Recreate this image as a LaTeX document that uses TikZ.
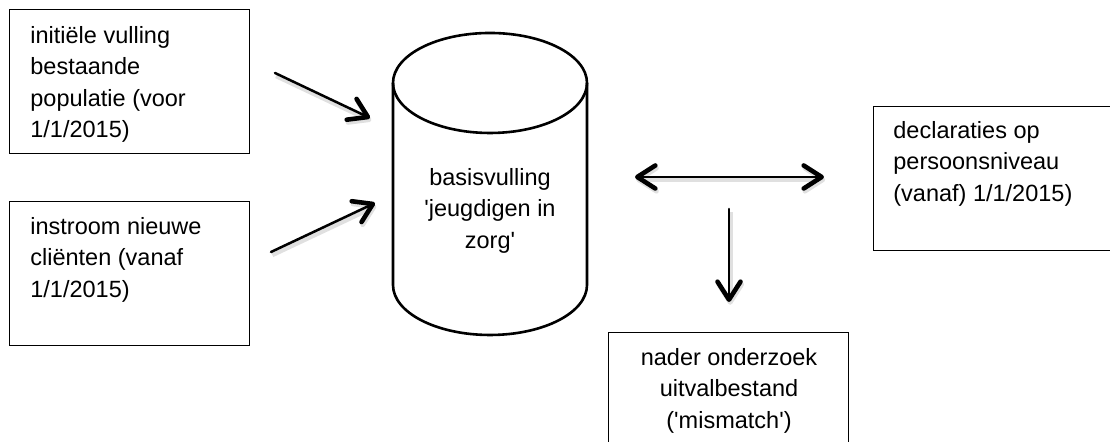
\documentclass[tikz,border=0pt]{standalone}
\usepackage{fontspec}
\newfontfamily\arial{Liberation Sans}
\usetikzlibrary{arrows.meta}

\begin{document}
\begin{tikzpicture}[x=0.5pt,y=0.5pt,
    every node/.style={font=\arial\fontsize{11.75}{15.75}\selectfont},
    >={Straight Barb[round,length=9pt,width=11.5pt,line width=2.3pt]}]
    \tikzstyle{box}=[draw,line width=0.5pt,minimum width=120pt,minimum height=72pt,inner sep=0]
    \tikzstyle{box text}=[inner sep=0,align=left,anchor=north west]
    \tikzstyle{flow}=[line width=1.25pt,line cap=round,
        preaction={draw=black!12,line width=2.5pt,transform canvas={shift={(0.6pt,-1.4pt)}}}]
    \tikzstyle{db line}=[line width=1.3pt,line join=round]

    \useasboundingbox (0,0) rectangle (1110,442);

    % input boxes
    \node(1)[box] at (129,360){};
    \node(1t)[box text] at (30,416){initiële vulling\\bestaande\\populatie (voor\\1/1/2015)};
    \node(2)[box] at (129,168){};
    \node(2t)[box text] at (30,225){instroom nieuwe\\cliënten (vanaf\\1/1/2015)};

    % database
    \draw[db line] (393,359) -- (393,157) arc[start angle=180,end angle=360,x radius=97,y radius=50]
        -- (587,359) arc[start angle=0,end angle=180,x radius=97,y radius=50] -- cycle;
    \draw[db line] (393,359) arc[start angle=180,end angle=360,x radius=97,y radius=50];
    \node(db)[inner sep=0,align=center,anchor=north] at (490,274){basisvulling\\'jeugdigen in\\zorg'};

    % output boxes
    \node(3)[box] at (993,263){};
    \node(3t)[box text] at (893,321){declaraties op\\persoonsniveau\\(vanaf) 1/1/2015)};
    \node(4)[box] at (728.5,37){};
    \node(4t)[inner sep=0,align=center,anchor=north] at (729,94){nader onderzoek\\uitvalbestand\\('mismatch')};

    % arrows
    \coordinate(a1) at (275,369);
    \coordinate(a1e) at (370,324);
    \coordinate(a2) at (271,190);
    \coordinate(a2e) at (375,239);
    \coordinate(m1) at (635,265);
    \coordinate(m2) at (824,265);
    \coordinate(d1) at (729,233);
    \coordinate(d2) at (729,140);
    \draw[flow,->] (a1) -- (a1e);
    \draw[flow,->] (a2) -- (a2e);
    \draw[flow,<->] (m1) -- (m2);
    \draw[flow,->] (d1) -- (d2);
\end{tikzpicture}
\end{document}
